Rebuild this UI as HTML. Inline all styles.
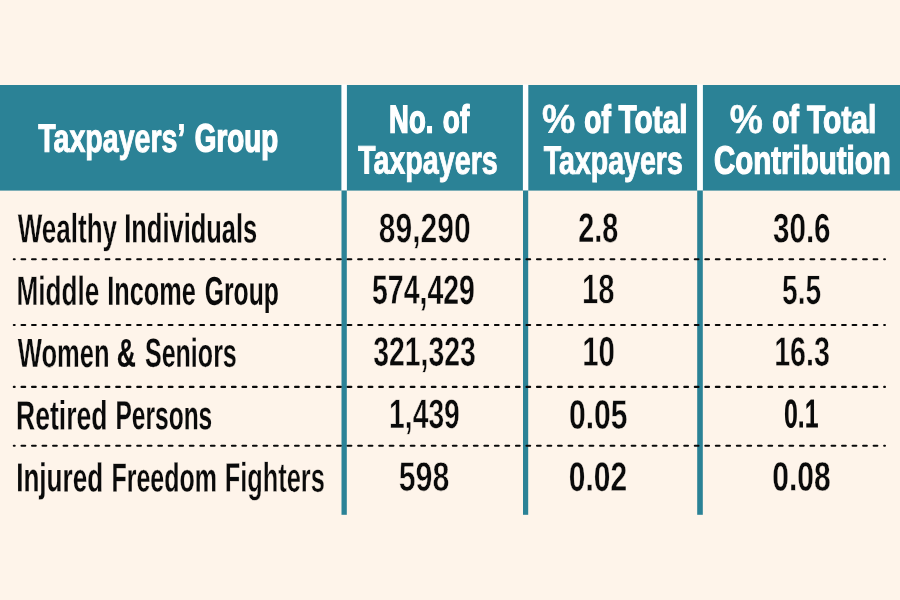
<!DOCTYPE html>
<html lang="en">
<head>
<meta charset="utf-8">
<title>Taxpayers’ Group — number of taxpayers and share of contribution</title>
<style>
html,body{margin:0;padding:0}
body{width:900px;height:600px;background:#fef4ea;overflow:hidden;position:relative;font-family:"Liberation Sans",sans-serif}
.tbl{position:absolute;left:0;top:0;width:900px;height:600px}
.grid{position:absolute;left:0;top:0;display:block}
.t{position:absolute;left:0;top:0;white-space:nowrap;font-size:40px;line-height:40px;font-weight:700;transform-origin:0 0;margin:0;padding:0}
.h{color:#fff;-webkit-text-stroke-color:#fff}
.b{color:#0a0a0a;-webkit-text-stroke-color:#0a0a0a}
</style>
</head>
<body>
<div class="tbl" role="table">
<svg class="grid" width="900" height="600" viewBox="0 0 900 600" aria-hidden="true">
<rect x="0" y="85" width="900" height="105.60" fill="#2b8296"/>
<rect x="341.4" y="84.5" width="5.50" height="106.10" fill="#ffffff"/>
<rect x="341.50" y="190.6" width="5.30" height="324.20" fill="#2b8296"/>
<rect x="522.9" y="84.5" width="5.40" height="106.10" fill="#ffffff"/>
<rect x="523.00" y="190.6" width="5.20" height="324.20" fill="#2b8296"/>
<rect x="697.1" y="84.5" width="5.80" height="106.10" fill="#ffffff"/>
<rect x="697.20" y="190.6" width="5.60" height="324.20" fill="#2b8296"/>
<line x1="13.8" y1="259.3" x2="884.95" y2="259.3" stroke="#0a0a0a" stroke-width="2.1" stroke-dasharray="3.7 6.82" stroke-dashoffset="2.8" stroke-linecap="round"/>
<line x1="13.8" y1="325.05" x2="884.95" y2="325.05" stroke="#0a0a0a" stroke-width="2.1" stroke-dasharray="3.7 6.82" stroke-dashoffset="2.8" stroke-linecap="round"/>
<line x1="13.8" y1="386.9" x2="884.95" y2="386.9" stroke="#0a0a0a" stroke-width="2.1" stroke-dasharray="3.7 6.82" stroke-dashoffset="2.8" stroke-linecap="round"/>
<line x1="13.8" y1="445.75" x2="884.95" y2="445.75" stroke="#0a0a0a" stroke-width="2.1" stroke-dasharray="3.7 6.82" stroke-dashoffset="2.8" stroke-linecap="round"/>
</svg>
<div class="row head" role="row">
<div class="c" role="columnheader"><span class="t h" style="transform:matrix(0.7142,0.0005,0,0.9936,38.21,117.97);-webkit-text-stroke-width:1.01px">Taxpayers’</span> <span class="t h" style="transform:matrix(0.6937,0.0005,0,0.9768,194.86,118.13);-webkit-text-stroke-width:1.61px">Group</span></div>
<div class="c" role="columnheader"><span class="t h" style="transform:matrix(0.6865,0.0005,0,0.9755,389.05,99.29);-webkit-text-stroke-width:1.56px">No.</span> <span class="t h" style="transform:matrix(0.6981,0.0005,0,0.9765,442.83,99.30);-webkit-text-stroke-width:1.47px">of</span> <span class="t h" style="transform:matrix(0.7173,0.0005,0,0.9953,357.98,139.73);-webkit-text-stroke-width:0.94px">Taxpayers</span></div>
<div class="c" role="columnheader"><span class="t h" style="transform:matrix(0.9336,0.0005,0,1.0045,541.97,98.65);-webkit-text-stroke-width:0.50px">%</span> <span class="t h" style="transform:matrix(0.7010,0.0005,0,0.9751,584.26,99.37);-webkit-text-stroke-width:1.62px">of</span> <span class="t h" style="transform:matrix(0.7434,0.0005,0,0.9770,618.61,99.29);-webkit-text-stroke-width:1.30px">Total</span> <span class="t h" style="transform:matrix(0.7135,0.0005,0,0.9933,543.73,139.93);-webkit-text-stroke-width:0.94px">Taxpayers</span></div>
<div class="c" role="columnheader"><span class="t h" style="transform:matrix(0.9321,0.0005,0,1.0039,729.79,98.78);-webkit-text-stroke-width:0.50px">%</span> <span class="t h" style="transform:matrix(0.7037,0.0005,0,0.9755,772.24,99.44);-webkit-text-stroke-width:1.54px">of</span> <span class="t h" style="transform:matrix(0.7500,0.0005,0,0.9770,806.96,99.41);-webkit-text-stroke-width:1.27px">Total</span> <span class="t h" style="transform:matrix(0.7365,0.0005,0,0.9808,714.01,140.15);-webkit-text-stroke-width:1.37px">Contribution</span></div>
</div>
<div class="row" role="row">
<div class="c" role="cell"><span class="t b" style="transform:matrix(0.6510,0.0005,0,1.0261,17.72,207.69);-webkit-text-stroke:0.35px #fef4ea">Wealthy</span> <span class="t b" style="transform:matrix(0.6363,0.0005,0,1.0167,124.25,207.76);-webkit-text-stroke:0.19px #fef4ea">Individuals</span></div>
<div class="c" role="cell"><span class="t b" style="transform:matrix(0.7514,0.0005,0,1.0310,378.72,207.15);-webkit-text-stroke:0.53px #fef4ea">89,290</span></div>
<div class="c" role="cell"><span class="t b" style="transform:matrix(0.7192,0.0005,0,1.0343,578.32,206.93);-webkit-text-stroke:0.36px #fef4ea">2.8</span></div>
<div class="c" role="cell"><span class="t b" style="transform:matrix(0.7402,0.0005,0,1.0243,772.95,207.30);-webkit-text-stroke:0.40px #fef4ea">30.6</span></div>
</div>
<div class="row" role="row">
<div class="c" role="cell"><span class="t b" style="transform:matrix(0.6545,0.0005,0,1.0272,16.52,269.96);-webkit-text-stroke:0.36px #fef4ea">Middle</span> <span class="t b" style="transform:matrix(0.6322,0.0005,0,1.0167,107.16,270.06);-webkit-text-stroke:0.17px #fef4ea">Income</span> <span class="t b" style="transform:matrix(0.6184,0.0005,0,1.0069,204.65,270.40);-webkit-text-stroke:0.06px #fef4ea">Group</span></div>
<div class="c" role="cell"><span class="t b" style="transform:matrix(0.7110,0.0005,0,1.0293,372.04,268.85);-webkit-text-stroke:0.38px #fef4ea">574,429</span></div>
<div class="c" role="cell"><span class="t b" style="transform:matrix(0.7303,0.0005,0,1.0347,582.12,267.96);-webkit-text-stroke:0.60px #fef4ea">18</span></div>
<div class="c" role="cell"><span class="t b" style="transform:matrix(0.7062,0.0005,0,1.0310,781.93,268.84);-webkit-text-stroke:0.55px #fef4ea">5.5</span></div>
</div>
<div class="row" role="row">
<div class="c" role="cell"><span class="t b" style="transform:matrix(0.6388,0.0005,0,1.0214,17.79,332.30);-webkit-text-stroke:0.31px #fef4ea">Women</span> <span class="t b" style="transform:matrix(0.6610,0.0005,0,0.9937,116.67,332.83);-webkit-text-stroke-width:0.20px">&amp;</span> <span class="t b" style="transform:matrix(0.6262,0.0005,0,1.0121,144.93,332.29);-webkit-text-stroke:0.22px #fef4ea">Seniors</span></div>
<div class="c" role="cell"><span class="t b" style="transform:matrix(0.7099,0.0005,0,1.0333,373.24,330.63);-webkit-text-stroke:0.45px #fef4ea">321,323</span></div>
<div class="c" role="cell"><span class="t b" style="transform:matrix(0.7374,0.0005,0,1.0357,582.19,330.58);-webkit-text-stroke:0.48px #fef4ea">10</span></div>
<div class="c" role="cell"><span class="t b" style="transform:matrix(0.7177,0.0005,0,1.0317,774.13,330.63);-webkit-text-stroke:0.50px #fef4ea">16.3</span></div>
</div>
<div class="row" role="row">
<div class="c" role="cell"><span class="t b" style="transform:matrix(0.6624,0.0005,0,1.0215,16.11,394.71);-webkit-text-stroke:0.25px #fef4ea">Retired</span> <span class="t b" style="transform:matrix(0.6133,0.0005,0,1.0073,115.45,394.85);-webkit-text-stroke:0.14px #fef4ea">Persons</span></div>
<div class="c" role="cell"><span class="t b" style="transform:matrix(0.7063,0.0005,0,1.0257,389.12,393.16);-webkit-text-stroke:0.50px #fef4ea">1,439</span></div>
<div class="c" role="cell"><span class="t b" style="transform:matrix(0.7507,0.0005,0,1.0202,569.03,393.86);-webkit-text-stroke:0.37px #fef4ea">0.05</span></div>
<div class="c" role="cell"><span class="t b" style="transform:matrix(0.6228,0.0005,0,1.0069,783.90,393.23);-webkit-text-stroke-width:0.15px">0.1</span></div>
</div>
<div class="row" role="row">
<div class="c" role="cell"><span class="t b" style="transform:matrix(0.6517,0.0005,0,1.0073,16.18,457.10);-webkit-text-stroke:0.19px #fef4ea">Injured</span> <span class="t b" style="transform:matrix(0.6242,0.0005,0,1.0083,111.48,457.19);-webkit-text-stroke:0.21px #fef4ea">Freedom</span> <span class="t b" style="transform:matrix(0.6352,0.0005,0,1.0330,224.66,456.55);-webkit-text-stroke:0.42px #fef4ea">Fighters</span></div>
<div class="c" role="cell"><span class="t b" style="transform:matrix(0.7612,0.0005,0,1.0275,398.68,455.77);-webkit-text-stroke:0.60px #fef4ea">598</span></div>
<div class="c" role="cell"><span class="t b" style="transform:matrix(0.7477,0.0005,0,1.0181,568.85,456.19);-webkit-text-stroke:0.35px #fef4ea">0.02</span></div>
<div class="c" role="cell"><span class="t b" style="transform:matrix(0.7494,0.0005,0,1.0227,772.34,455.68);-webkit-text-stroke:0.35px #fef4ea">0.08</span></div>
</div>
</div>
</body>
</html>
